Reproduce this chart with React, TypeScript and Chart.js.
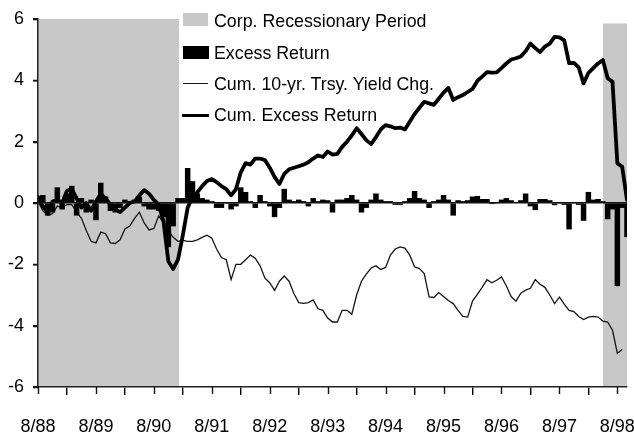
import React, { useEffect, useRef } from "react";
import { Chart, registerables } from "chart.js";

Chart.register(...registerables);

// Month index 0 = 8/88 ... 122 = 10/98
const tickMonths = [0, 12, 24, 36, 48, 60, 72, 84, 96, 108, 120];
const tickLabels = ["8/88", "8/89", "8/90", "8/91", "8/92", "8/93", "8/94", "8/95", "8/96", "8/97", "8/98"];
const yTickValues = [-6, -4, -2, 0, 2, 4, 6];

// Corp. recessionary periods (month index start/end) and shaded top value
const recession1 = [0, 29.2];
const recession2 = [117, 122];
const recessionTop1 = 6;
const recessionTop2 = 5.85;

const excessReturn = [
  0.2, 0.25, -0.4, -0.3, 0.5, -0.2, 0.3, 0.55, -0.4, 0.15,
  -0.3, 0.1, -0.55, 0.65, 0.2, -0.25, -0.3, -0.15, 0.1, 0.05,
  0.1, 0.2, -0.1, -0.2, -0.2, -0.25, -0.45, -1.43, -0.75, 0.15,
  0.15, 1.13, 0.7, 0.3, 0.15, 0.1, 0.05, -0.15, -0.15, 0.0,
  -0.2, -0.1, 0.5, 0.35, 0.05, -0.15, 0.25, 0.05, -0.1, -0.45,
  -0.15, 0.45, 0.1, 0.05, 0.1, 0.05, -0.1, 0.15, 0.05, 0.1,
  0.08, -0.3, 0.1, 0.1, 0.15, 0.25, 0.1, -0.3, -0.15, 0.1,
  0.3, 0.1, 0.05, 0.05, -0.05, -0.05, 0.05, 0.15, 0.38, 0.15,
  0.1, -0.15, 0.05, 0.1, 0.25, 0.1, -0.4, 0.08, 0.05, 0.08,
  0.2, 0.22, 0.12, 0.12, -0.02, 0.0, 0.1, 0.15, 0.08, 0.02,
  0.08, 0.3, -0.1, -0.22, 0.12, 0.12, 0.08, -0.06, 0.0, -0.05,
  -0.85, 0.0, -0.05, -0.57, 0.35, 0.1, 0.12, 0.05, -0.52, -0.2,
  -2.7, -0.15, -1.1,
];

const cumYieldChg = [
  0.05, -0.25, -0.4, -0.35, -0.1, -0.15, -0.05, -0.05, -0.3, -0.5,
  -0.9, -1.25, -1.3, -0.95, -1.0, -1.3, -1.32, -1.2, -0.85, -0.75,
  -0.5, -0.3, -0.65, -0.88, -0.83, -0.42, -0.65, -0.9, -1.12, -1.25,
  -1.22, -1.25, -1.25, -1.2, -1.12, -1.05, -1.15, -1.5, -1.78, -1.85,
  -2.5, -2.0, -2.0, -1.85, -1.7, -1.8, -2.05, -2.45, -2.6, -2.85,
  -2.55, -2.38, -2.55, -2.95, -3.25, -3.27, -3.25, -3.16, -3.45, -3.5,
  -3.75, -3.88, -3.88, -3.5, -3.5, -3.63, -3.0, -2.55, -2.32, -2.12,
  -2.05, -2.17, -2.1, -1.7, -1.5, -1.43, -1.47, -1.7, -2.08, -2.14,
  -2.3, -3.06, -3.08, -2.92, -3.05, -3.18, -3.28, -3.5, -3.7, -3.72,
  -3.2, -2.98, -2.75, -2.5, -2.6, -2.52, -2.41, -2.7, -3.05, -3.2,
  -2.94, -2.84, -2.78, -2.5, -2.65, -2.75, -3.0, -3.28, -3.07, -3.3,
  -3.5, -3.54, -3.7, -3.8, -3.72, -3.7, -3.72, -3.85, -3.88, -4.15,
  -4.9, -4.78,
];

const cumExcessReturn = [
  0.2, -0.1, -0.3, 0.05, 0.1, 0.0, 0.4, 0.45, 0.15, -0.15,
  0.0, -0.25, 0.05, 0.3, 0.15, -0.05, -0.2, -0.3, -0.15, 0.0,
  0.05, 0.25, 0.42, 0.3, 0.1, -0.05, -0.6, -1.9, -2.15, -1.85,
  -1.05, -0.15, 0.2, 0.35, 0.55, 0.72, 0.78, 0.68, 0.55, 0.45,
  0.25, 0.45, 1.0, 1.3, 1.25, 1.45, 1.45, 1.4, 1.15, 0.85,
  0.62, 0.95, 1.1, 1.15, 1.2, 1.25, 1.33, 1.45, 1.55, 1.5,
  1.68, 1.58, 1.6, 1.83, 2.0, 2.2, 2.44, 2.25, 2.05, 1.92,
  2.15, 2.4, 2.54, 2.5, 2.44, 2.46, 2.4, 2.65, 2.9, 3.1,
  3.3, 3.25, 3.2, 3.4, 3.6, 3.75, 3.36, 3.45, 3.52, 3.62,
  3.72, 3.98, 4.12, 4.27, 4.25, 4.26, 4.4, 4.55, 4.68, 4.72,
  4.78, 4.95, 5.2, 5.05, 4.92, 5.1, 5.2, 5.42, 5.4, 5.3,
  4.56, 4.57, 4.42, 3.9, 4.24, 4.4, 4.55, 4.66, 4.07, 3.95,
  1.3, 1.18, 0.1,
];

const FONT = "'Liberation Sans', Arial, Helvetica, sans-serif";
const SHADE = "#c8c8c8";

// Draws the small outward tick marks on both axes from the scales' own pixel mapping.
const tickMarksPlugin = {
  id: "tickMarks",
  afterDraw(chart: any) {
    const { ctx, chartArea, scales } = chart;
    ctx.save();
    ctx.strokeStyle = "#111";
    ctx.lineWidth = 1.4;
    ctx.beginPath();
    tickMonths.forEach((m) => {
      const px = Math.round(scales.x.getPixelForValue(m)) + 0.5;
      ctx.moveTo(px, chartArea.bottom);
      ctx.lineTo(px, chartArea.bottom + 7);
    });
    yTickValues.forEach((v) => {
      const py = Math.round(scales.y.getPixelForValue(v)) + 0.5;
      ctx.moveTo(chartArea.left - 5, py);
      ctx.lineTo(chartArea.left, py);
    });
    ctx.stroke();
    ctx.restore();
  },
};

export default function App() {
  const canvasRef = useRef<HTMLCanvasElement | null>(null);

  useEffect(() => {
    const canvas = canvasRef.current;
    if (!canvas) return;
    const toXY = (arr: number[]) => arr.map((v, i) => ({ x: i, y: v }));
    const chart = new Chart(canvas, {
      type: "bar",
      data: {
        datasets: [
          {
            type: "line",
            label: "Corp. Recessionary Period",
            data: [
              { x: recession1[0], y: recessionTop1 },
              { x: recession1[1], y: recessionTop1 },
            ],
            borderWidth: 0,
            borderColor: "rgba(0,0,0,0)",
            backgroundColor: SHADE,
            pointRadius: 0,
            fill: { value: -6 },
            order: 10,
          } as any,
          {
            type: "line",
            label: "Corp. Recessionary Period 2",
            data: [
              { x: recession2[0], y: recessionTop2 },
              { x: recession2[1], y: recessionTop2 },
            ],
            borderWidth: 0,
            borderColor: "rgba(0,0,0,0)",
            backgroundColor: SHADE,
            pointRadius: 0,
            fill: { value: -6 },
            order: 9,
          } as any,
          {
            type: "line",
            label: "Cum. 10-yr. Trsy. Yield Chg.",
            data: toXY(cumYieldChg),
            borderColor: "#151515",
            borderWidth: 1.3,
            pointRadius: 0,
            fill: false,
            tension: 0,
            order: 3,
          } as any,
          {
            type: "bar",
            label: "Excess Return",
            data: toXY(excessReturn),
            backgroundColor: "#000",
            borderWidth: 0,
            barPercentage: 1,
            categoryPercentage: 1,
            order: 2,
          } as any,
          {
            type: "line",
            label: "Cum. Excess Return",
            data: toXY(cumExcessReturn),
            borderColor: "#000",
            borderWidth: 3.8,
            borderJoinStyle: "round",
            borderCapStyle: "round",
            pointRadius: 0,
            fill: false,
            tension: 0,
            order: 1,
          } as any,
        ],
      },
      options: {
        animation: false,
        responsive: true,
        maintainAspectRatio: false,
        events: [],
        layout: { padding: { top: 19, right: 7, left: 0, bottom: 0 } },
        plugins: {
          legend: { display: false },
          tooltip: { enabled: false },
        },
        scales: {
          x: {
            type: "linear",
            min: 0,
            max: 122,
            offset: false,
            afterFit: (scale: any) => {
              scale.height = 52;
              scale.paddingLeft = 0;
              scale.paddingRight = 0;
            },
            afterBuildTicks: (scale: any) => {
              scale.ticks = tickMonths.map((v) => ({ value: v }));
            },
            ticks: {
              autoSkip: false,
              maxRotation: 0,
              color: "#000",
              padding: 21,
              font: { family: FONT, size: 18 },
              callback: (value: any) => {
                const idx = tickMonths.indexOf(Number(value));
                return idx >= 0 ? tickLabels[idx] : "";
              },
            },
            grid: {
              display: true,
              drawOnChartArea: false,
              drawTicks: true,
              tickLength: 8,
              color: "#000",
              tickColor: "#000",
              tickWidth: 1.4,
              lineWidth: 1.4,
            },
            border: { display: true, color: "#222", width: 1.5, z: 1 },
          },
          y: {
            type: "linear",
            min: -6,
            max: 6,
            afterFit: (scale: any) => {
              scale.width = 38;
              scale.paddingTop = 0;
              scale.paddingBottom = 0;
            },
            ticks: {
              stepSize: 2,
              color: "#000",
              padding: 9,
              font: { family: FONT, size: 18 },
            },
            grid: {
              display: true,
              drawOnChartArea: true,
              drawTicks: true,
              tickLength: 5,
              tickColor: "#000",
              tickWidth: 1.4,
              lineWidth: 1.5,
              color: (ctx: any) => (ctx.tick && ctx.tick.value === 0 ? "#111" : "rgba(0,0,0,0)"),
              z: 1,
            },
            border: { display: true, color: "#222", width: 1.5, z: 1 },
          },
        },
      } as any,
      plugins: [tickMarksPlugin],
    });
    return () => chart.destroy();
  }, []);

  const textStyle: React.CSSProperties = {
    position: "absolute",
    left: 214,
    fontFamily: FONT,
    fontSize: 17.8,
    lineHeight: "20px",
    color: "#000",
    whiteSpace: "nowrap",
  };

  return (
    <div style={{ position: "fixed", left: 0, top: 0, width: 634, height: 439, background: "#fff" }}>
      <canvas ref={canvasRef} width={634} height={439} />
      <div style={{ position: "absolute", left: 183, top: 13, width: 25, height: 13, background: SHADE }} />
      <div style={{ ...textStyle, top: 11 }}>Corp. Recessionary Period</div>
      <div style={{ position: "absolute", left: 183, top: 46, width: 26, height: 13, background: "#000" }} />
      <div style={{ ...textStyle, top: 43 }}>Excess Return</div>
      <div style={{ position: "absolute", left: 183, top: 82.5, width: 25, height: 1.3, background: "#151515" }} />
      <div style={{ ...textStyle, top: 74 }}>Cum. 10-yr. Trsy. Yield Chg.</div>
      <div style={{ position: "absolute", left: 182, top: 113.5, width: 27, height: 3.8, background: "#000" }} />
      <div style={{ ...textStyle, top: 105 }}>Cum. Excess Return</div>
    </div>
  );
}
